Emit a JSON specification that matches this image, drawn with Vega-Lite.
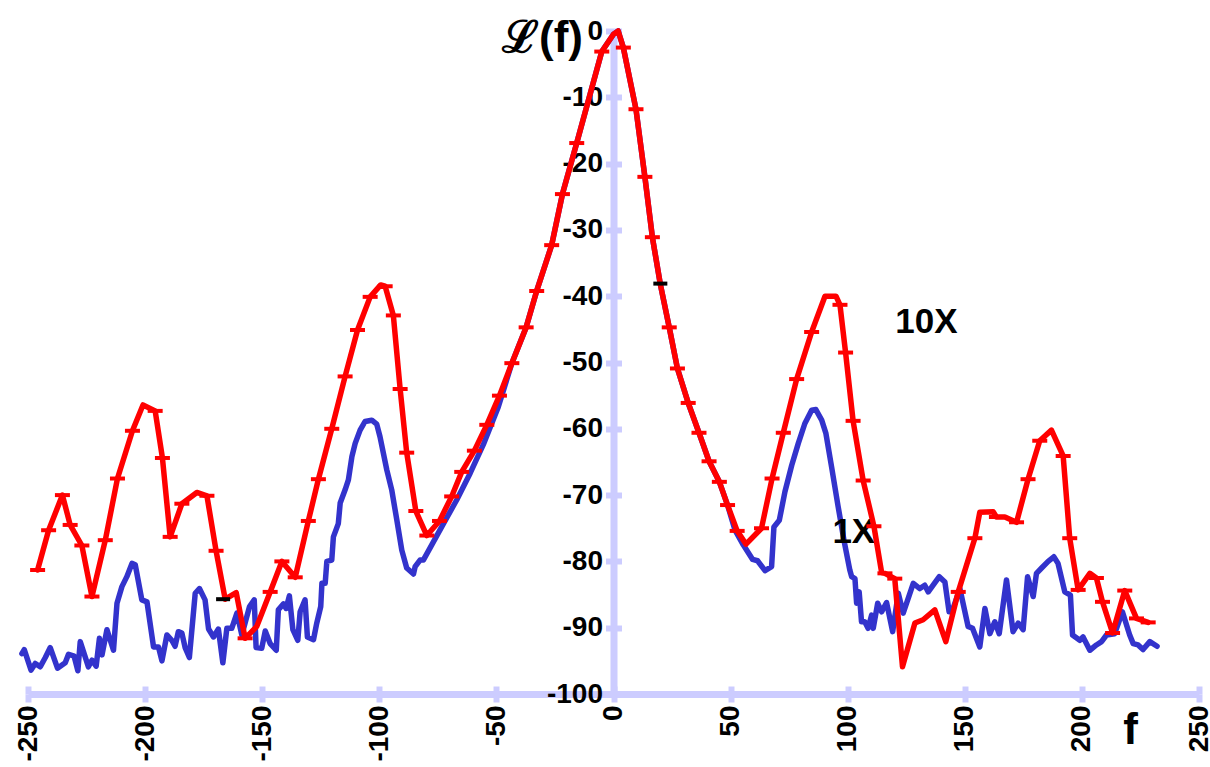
{
  "$schema": "https://vega.github.io/schema/vega-lite/v6.json",
  "width": 1171,
  "height": 663,
  "autosize": {"type": "none"},
  "padding": {"left": 28, "top": 31, "right": 11, "bottom": 73},
  "background": "white",
  "config": {
    "view": {"stroke": null},
    "axis": {"grid": false, "labelFont": "Liberation Sans", "titleFont": "Liberation Sans", "labelColor": "black", "titleColor": "black"}
  },
  "datasets": {
    "blue": [
      {"f": -252.6, "L": -93.9}, {"f": -251.6, "L": -93.3}, {"f": -248.7, "L": -96.4}, {"f": -246.9, "L": -95.4},
      {"f": -244.8, "L": -95.9}, {"f": -242.6, "L": -94.5}, {"f": -240.5, "L": -93.0}, {"f": -237.4, "L": -96.1},
      {"f": -234.1, "L": -95.3}, {"f": -232.7, "L": -94.0}, {"f": -230.3, "L": -94.3}, {"f": -228.7, "L": -96.5},
      {"f": -227.7, "L": -92.1}, {"f": -224.2, "L": -95.9}, {"f": -222.7, "L": -94.9}, {"f": -220.9, "L": -95.8},
      {"f": -219.5, "L": -91.6}, {"f": -218.4, "L": -94.1}, {"f": -216.3, "L": -90.3}, {"f": -213.5, "L": -93.4},
      {"f": -212.0, "L": -86.3}, {"f": -209.9, "L": -83.8}, {"f": -207.8, "L": -82.3}, {"f": -205.6, "L": -80.3},
      {"f": -204.2, "L": -80.5}, {"f": -201.4, "L": -85.8}, {"f": -199.2, "L": -86.1}, {"f": -196.4, "L": -92.9},
      {"f": -194.3, "L": -92.9}, {"f": -192.8, "L": -95.0}, {"f": -190.7, "L": -91.1}, {"f": -188.6, "L": -91.9},
      {"f": -187.2, "L": -92.8}, {"f": -185.8, "L": -90.6}, {"f": -184.3, "L": -90.8}, {"f": -182.9, "L": -93.0},
      {"f": -181.1, "L": -94.5}, {"f": -178.6, "L": -84.8}, {"f": -176.8, "L": -84.1}, {"f": -174.4, "L": -85.8},
      {"f": -172.9, "L": -90.2}, {"f": -170.8, "L": -91.4}, {"f": -168.7, "L": -90.2}, {"f": -166.8, "L": -95.3},
      {"f": -165.1, "L": -90.1}, {"f": -163.0, "L": -90.1}, {"f": -160.8, "L": -87.8}, {"f": -158.7, "L": -91.1},
      {"f": -155.4, "L": -86.8}, {"f": -153.4, "L": -85.8}, {"f": -152.6, "L": -93.0}, {"f": -150.2, "L": -93.1},
      {"f": -148.7, "L": -90.5}, {"f": -146.6, "L": -92.4}, {"f": -144.0, "L": -93.4}, {"f": -143.1, "L": -87.3},
      {"f": -140.9, "L": -86.4}, {"f": -139.8, "L": -87.1}, {"f": -138.4, "L": -85.2}, {"f": -136.9, "L": -90.3},
      {"f": -134.8, "L": -91.9}, {"f": -133.8, "L": -87.6}, {"f": -131.7, "L": -85.8}, {"f": -130.7, "L": -91.4},
      {"f": -128.1, "L": -91.8}, {"f": -126.7, "L": -89.3}, {"f": -125.0, "L": -86.8}, {"f": -124.5, "L": -83.3},
      {"f": -123.1, "L": -83.3}, {"f": -122.4, "L": -80.0}, {"f": -120.3, "L": -79.8}, {"f": -119.6, "L": -76.3},
      {"f": -117.5, "L": -74.3}, {"f": -116.7, "L": -71.2}, {"f": -114.6, "L": -69.2}, {"f": -113.2, "L": -67.7},
      {"f": -111.7, "L": -64.2}, {"f": -110.3, "L": -62.2}, {"f": -108.2, "L": -60.2}, {"f": -106.1, "L": -58.9},
      {"f": -103.2, "L": -58.7}, {"f": -101.1, "L": -59.3}, {"f": -99.7, "L": -61.2}, {"f": -96.8, "L": -66.2},
      {"f": -94.7, "L": -69.2}, {"f": -92.5, "L": -73.8}, {"f": -90.4, "L": -78.3}, {"f": -88.3, "L": -81.0},
      {"f": -85.4, "L": -81.9}, {"f": -84.7, "L": -80.8}, {"f": -82.6, "L": -79.8}, {"f": -81.2, "L": -79.8},
      {"f": -77.6, "L": -77.5}, {"f": -72.6, "L": -74.3}, {"f": -66.9, "L": -70.7}, {"f": -61.2, "L": -66.7},
      {"f": -55.6, "L": -62.4}, {"f": -49.2, "L": -56.7}, {"f": -43.4, "L": -50.1}, {"f": -37.3, "L": -44.7},
      {"f": -32.8, "L": -39.2}, {"f": -26.4, "L": -32.3}, {"f": -21.8, "L": -24.6}, {"f": -15.7, "L": -16.9},
      {"f": -5.0, "L": -3.1}, {"f": 0.0, "L": -0.5}, {"f": 2.0, "L": 0.0}, {"f": 4.2, "L": -2.5},
      {"f": 9.6, "L": -11.8}, {"f": 13.4, "L": -22.0}, {"f": 16.6, "L": -31.1}, {"f": 20.0, "L": -38.2},
      {"f": 23.8, "L": -44.7}, {"f": 27.3, "L": -50.9}, {"f": 31.9, "L": -56.1}, {"f": 36.5, "L": -60.6},
      {"f": 40.8, "L": -64.9}, {"f": 45.2, "L": -68.0}, {"f": 48.7, "L": -71.5}, {"f": 51.9, "L": -75.3},
      {"f": 55.4, "L": -77.5}, {"f": 59.4, "L": -79.7}, {"f": 61.5, "L": -79.9}, {"f": 64.7, "L": -81.4},
      {"f": 67.5, "L": -80.8}, {"f": 68.5, "L": -74.8}, {"f": 70.8, "L": -73.8}, {"f": 73.2, "L": -69.5},
      {"f": 76.1, "L": -65.5}, {"f": 78.9, "L": -62.2}, {"f": 81.7, "L": -59.2}, {"f": 84.6, "L": -57.2},
      {"f": 86.4, "L": -57.1}, {"f": 88.9, "L": -58.7}, {"f": 90.7, "L": -60.7}, {"f": 93.1, "L": -65.7},
      {"f": 95.9, "L": -71.7}, {"f": 98.4, "L": -76.8}, {"f": 100.9, "L": -81.3}, {"f": 101.7, "L": -82.3},
      {"f": 103.1, "L": -82.6}, {"f": 103.8, "L": -86.3}, {"f": 104.9, "L": -84.6}, {"f": 105.9, "L": -89.1},
      {"f": 107.3, "L": -89.1}, {"f": 108.7, "L": -90.1}, {"f": 110.2, "L": -88.1}, {"f": 110.9, "L": -90.1},
      {"f": 112.8, "L": -86.3}, {"f": 114.5, "L": -87.6}, {"f": 116.6, "L": -86.2}, {"f": 119.2, "L": -90.6},
      {"f": 121.6, "L": -84.8}, {"f": 123.7, "L": -87.8}, {"f": 128.0, "L": -83.3}, {"f": 130.8, "L": -84.1},
      {"f": 132.9, "L": -83.6}, {"f": 134.4, "L": -84.6}, {"f": 139.1, "L": -82.3}, {"f": 141.5, "L": -83.1},
      {"f": 143.3, "L": -87.6}, {"f": 145.0, "L": -87.1}, {"f": 147.9, "L": -84.1}, {"f": 151.4, "L": -89.8},
      {"f": 153.3, "L": -90.1}, {"f": 156.4, "L": -92.9}, {"f": 158.6, "L": -87.1}, {"f": 160.7, "L": -90.9},
      {"f": 162.8, "L": -89.1}, {"f": 164.7, "L": -90.9}, {"f": 167.8, "L": -82.8}, {"f": 170.6, "L": -90.6},
      {"f": 172.8, "L": -89.3}, {"f": 174.9, "L": -90.3}, {"f": 176.8, "L": -82.3}, {"f": 179.2, "L": -85.3},
      {"f": 180.6, "L": -81.8}, {"f": 182.8, "L": -81.0}, {"f": 185.6, "L": -80.0}, {"f": 188.0, "L": -79.3},
      {"f": 189.8, "L": -80.3}, {"f": 192.7, "L": -84.6}, {"f": 195.1, "L": -85.1}, {"f": 196.0, "L": -91.1},
      {"f": 199.1, "L": -91.9}, {"f": 200.5, "L": -91.4}, {"f": 203.4, "L": -93.4}, {"f": 206.2, "L": -92.6},
      {"f": 208.4, "L": -92.1}, {"f": 210.5, "L": -91.1}, {"f": 214.0, "L": -90.9}, {"f": 217.3, "L": -87.6},
      {"f": 220.4, "L": -91.1}, {"f": 221.9, "L": -92.4}, {"f": 224.0, "L": -92.6}, {"f": 226.1, "L": -93.3},
      {"f": 229.0, "L": -92.1}, {"f": 232.1, "L": -92.8}
    ],
    "red": [
      {"f": -245.9, "L": -81.3, "m": 1}, {"f": -241.2, "L": -75.3, "m": 1}, {"f": -235.3, "L": -70.0, "m": 1},
      {"f": -232.0, "L": -74.5, "m": 1}, {"f": -227.0, "L": -77.6, "m": 1}, {"f": -222.7, "L": -85.3, "m": 1},
      {"f": -217.0, "L": -76.8, "m": 1}, {"f": -211.8, "L": -67.5, "m": 1}, {"f": -205.4, "L": -60.3, "m": 1},
      {"f": -200.9, "L": -56.4, "m": 0}, {"f": -195.7, "L": -57.3, "m": 1}, {"f": -192.6, "L": -64.4, "m": 1},
      {"f": -189.3, "L": -76.3, "m": 1}, {"f": -184.3, "L": -71.3, "m": 1}, {"f": -177.9, "L": -69.6, "m": 0},
      {"f": -173.6, "L": -70.1, "m": 1}, {"f": -169.7, "L": -78.4, "m": 1}, {"f": -165.8, "L": -85.7, "m": 0},
      {"f": -161.1, "L": -84.7, "m": 0}, {"f": -157.3, "L": -91.6, "m": 1}, {"f": -152.3, "L": -89.8, "m": 0},
      {"f": -146.6, "L": -84.6, "m": 1}, {"f": -141.6, "L": -80.0, "m": 1}, {"f": -135.9, "L": -82.4, "m": 1},
      {"f": -130.3, "L": -73.9, "m": 1}, {"f": -126.0, "L": -67.6, "m": 1}, {"f": -120.3, "L": -60.0, "m": 1},
      {"f": -114.6, "L": -52.1, "m": 1}, {"f": -109.3, "L": -45.1, "m": 1}, {"f": -103.9, "L": -40.1, "m": 1},
      {"f": -99.4, "L": -38.3, "m": 0}, {"f": -97.5, "L": -38.5, "m": 1}, {"f": -94.0, "L": -42.9, "m": 1},
      {"f": -91.1, "L": -54.0, "m": 1}, {"f": -88.3, "L": -63.6, "m": 1}, {"f": -84.4, "L": -72.4, "m": 1},
      {"f": -79.7, "L": -76.1, "m": 1}, {"f": -74.3, "L": -73.9, "m": 1}, {"f": -69.1, "L": -70.2, "m": 1},
      {"f": -64.8, "L": -66.5, "m": 1}, {"f": -59.4, "L": -63.3, "m": 1}, {"f": -54.1, "L": -59.4, "m": 1},
      {"f": -48.7, "L": -55.0, "m": 1}, {"f": -43.4, "L": -50.1, "m": 1}, {"f": -37.3, "L": -44.7, "m": 1},
      {"f": -32.8, "L": -39.2, "m": 1}, {"f": -26.4, "L": -32.3, "m": 1}, {"f": -21.8, "L": -24.6, "m": 1},
      {"f": -15.7, "L": -16.9, "m": 1}, {"f": -5.0, "L": -3.1, "m": 1}, {"f": 0.0, "L": -0.5, "m": 0},
      {"f": 2.0, "L": 0.0, "m": 0}, {"f": 4.2, "L": -2.5, "m": 1}, {"f": 9.6, "L": -11.8, "m": 1},
      {"f": 13.4, "L": -22.0, "m": 1}, {"f": 16.6, "L": -31.1, "m": 1}, {"f": 20.0, "L": -38.2, "m": 0},
      {"f": 23.8, "L": -44.7, "m": 1}, {"f": 27.3, "L": -50.9, "m": 1}, {"f": 31.9, "L": -56.1, "m": 1},
      {"f": 36.5, "L": -60.6, "m": 1}, {"f": 40.8, "L": -64.9, "m": 1}, {"f": 45.2, "L": -68.0, "m": 1},
      {"f": 48.7, "L": -71.5, "m": 1}, {"f": 52.8, "L": -75.4, "m": 1}, {"f": 56.6, "L": -77.4, "m": 0},
      {"f": 63.2, "L": -75.0, "m": 1}, {"f": 67.7, "L": -67.5, "m": 1}, {"f": 72.5, "L": -60.6, "m": 1},
      {"f": 78.2, "L": -52.5, "m": 1}, {"f": 84.6, "L": -45.4, "m": 1}, {"f": 90.3, "L": -40.0, "m": 0},
      {"f": 95.0, "L": -40.0, "m": 0}, {"f": 96.7, "L": -41.3, "m": 1}, {"f": 99.1, "L": -48.5, "m": 1},
      {"f": 102.3, "L": -58.8, "m": 1}, {"f": 106.6, "L": -67.8, "m": 1}, {"f": 111.2, "L": -74.7, "m": 1},
      {"f": 114.5, "L": -81.7, "m": 0}, {"f": 115.9, "L": -81.8, "m": 1}, {"f": 120.1, "L": -82.6, "m": 1},
      {"f": 123.4, "L": -95.9, "m": 0}, {"f": 128.7, "L": -89.3, "m": 0}, {"f": 132.2, "L": -88.8, "m": 0},
      {"f": 137.2, "L": -87.3, "m": 0}, {"f": 141.9, "L": -92.1, "m": 0}, {"f": 147.2, "L": -84.6, "m": 1},
      {"f": 154.3, "L": -76.5, "m": 1}, {"f": 156.4, "L": -72.6, "m": 0}, {"f": 162.1, "L": -72.5, "m": 0},
      {"f": 163.5, "L": -73.3, "m": 1}, {"f": 167.1, "L": -73.3, "m": 0}, {"f": 172.1, "L": -74.1, "m": 1},
      {"f": 177.0, "L": -67.6, "m": 1}, {"f": 182.0, "L": -61.8, "m": 1}, {"f": 187.0, "L": -60.2, "m": 0},
      {"f": 192.0, "L": -64.1, "m": 1}, {"f": 194.8, "L": -76.5, "m": 1}, {"f": 198.4, "L": -84.3, "m": 1},
      {"f": 203.4, "L": -81.8, "m": 0}, {"f": 206.2, "L": -82.5, "m": 1}, {"f": 208.8, "L": -86.1, "m": 1},
      {"f": 213.1, "L": -90.8, "m": 1}, {"f": 218.3, "L": -84.4, "m": 1}, {"f": 223.3, "L": -88.6, "m": 1},
      {"f": 228.3, "L": -89.2, "m": 1}
    ],
    "dashes": [
      {"f": 20.0, "L": -38.1}, {"f": -166.7, "L": -85.7}
    ],
    "labels": [
      {"f": 133.6, "L": -45.5, "text": "10X"}, {"f": 102.6, "L": -77.2, "text": "1X"}
    ]
  },
  "resolve": {"axis": {"x": "independent", "y": "independent"}},
  "layer": [
    {
      "data": {"name": "blue"},
      "mark": {"type": "line", "color": "#3333CC", "strokeWidth": 5.5, "strokeJoin": "round", "strokeCap": "round"},
      "encoding": {
        "x": {"field": "f", "type": "quantitative", "scale": {"domain": [-250, 250], "nice": false, "zero": false},
          "axis": {"orient": "bottom", "values": [-250, -200, -150, -100, -50, 0, 50, 100, 150, 200, 250],
            "labelExpr": "toString(datum.value)",
            "labelAngle": -90, "labelAlign": "right", "labelBaseline": "middle", "labelFontSize": 28, "labelFontWeight": "bold",
            "labelPadding": 3, "labelOverlap": false, "labelFlush": false,
            "domainColor": "#CCCCFF", "domainWidth": 7, "tickColor": "#CCCCFF", "tickWidth": 6, "tickSize": 8,
            "title": "f", "titleFontSize": 44, "titleFontWeight": "bold", "titleAngle": 0, "titleAlign": "center",
            "titleBaseline": "alphabetic", "titleX": 1102, "titleY": 49}},
        "y": {"field": "L", "type": "quantitative", "scale": {"domain": [-100, 0], "nice": false, "zero": false},
          "axis": {"orient": "left", "offset": -585.5, "values": [0, -10, -20, -30, -40, -50, -60, -70, -80, -90, -100],
            "labelExpr": "toString(datum.value)",
            "labelFontSize": 28, "labelFontWeight": "bold", "labelPadding": 3, "labelOverlap": false, "labelFlush": false,
            "domainColor": "#CCCCFF", "domainWidth": 7, "tickColor": "#CCCCFF", "tickWidth": 6, "tickSize": 8,
            "title": "ℒ(f)", "titleFontSize": 44, "titleFontWeight": "bold", "titleAngle": 0, "titleAlign": "right",
            "titleBaseline": "alphabetic", "titleX": -31, "titleY": 20}}
      }
    },
    {
      "data": {"name": "labels"},
      "mark": {"type": "text", "font": "Liberation Sans", "fontSize": 35, "fontWeight": "bold", "color": "black", "align": "center", "baseline": "alphabetic"},
      "encoding": {
        "x": {"field": "f", "type": "quantitative",
          "axis": {"orient": "top", "offset": -663, "values": [-250, -200, -150, -100, -50, 0, 50, 100, 150, 200, 250],
            "labels": false, "domain": false, "tickColor": "#CCCCFF", "tickWidth": 6, "tickSize": 8, "title": null}},
        "y": {"field": "L", "type": "quantitative",
          "axis": {"orient": "right", "offset": -585.5, "values": [0, -10, -20, -30, -40, -50, -60, -70, -80, -90, -100],
            "labels": false, "domain": false, "tickColor": "#CCCCFF", "tickWidth": 6, "tickSize": 8, "title": null}},
        "text": {"field": "text"}
      }
    },
    {
      "data": {"name": "red"},
      "mark": {"type": "line", "color": "#FF0000", "strokeWidth": 5.5, "strokeJoin": "round", "strokeCap": "round"},
      "encoding": {
        "x": {"field": "f", "type": "quantitative", "axis": null},
        "y": {"field": "L", "type": "quantitative", "axis": null}
      }
    },
    {
      "data": {"name": "red"},
      "transform": [{"filter": "datum.m == 1"}],
      "mark": {"type": "tick", "orient": "horizontal", "color": "#FF0000", "size": 15, "thickness": 4, "opacity": 1},
      "encoding": {
        "x": {"field": "f", "type": "quantitative", "axis": null},
        "y": {"field": "L", "type": "quantitative", "axis": null}
      }
    },
    {
      "data": {"name": "dashes"},
      "mark": {"type": "tick", "orient": "horizontal", "color": "black", "size": 14, "thickness": 4, "opacity": 1},
      "encoding": {
        "x": {"field": "f", "type": "quantitative", "axis": null},
        "y": {"field": "L", "type": "quantitative", "axis": null}
      }
    }
  ]
}
